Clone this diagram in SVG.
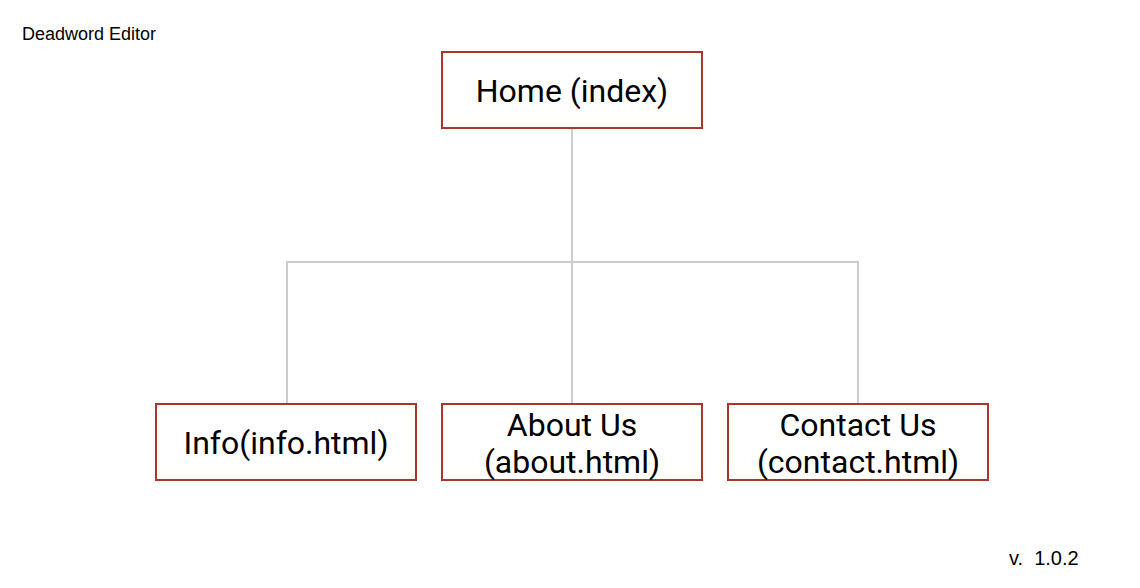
<svg xmlns="http://www.w3.org/2000/svg" width="1140" height="588" viewBox="0 0 1140 588">
<style>
.box{fill:#fff;stroke:#a8382c;stroke-width:2}
.lbl{font-family:Roboto,"Liberation Sans",sans-serif;font-size:32px;fill:#000;text-anchor:middle}
.edge{stroke:#cccccc;stroke-width:2;fill:none}
.note{font-family:"Liberation Sans",Arial,sans-serif;font-size:18px;fill:#000}
</style>
<rect width="1140" height="588" fill="#fff"/>
<text class="note" x="22" y="40">Deadword Editor</text>
<text class="note" x="1009" y="565" style="font-size:20px" xml:space="preserve">v.  1.0.2</text>
<g id="connectors">
<path class="edge" d="M572,128 V404"/>
<path class="edge" d="M287,404 V262 H858 V404"/>
</g>
<g id="home">
<rect class="box" x="442" y="52" width="260" height="76"/>
<text class="lbl" x="572" y="102">Home (index)</text>
</g>
<g id="info">
<rect class="box" x="156" y="404" width="260" height="76"/>
<text class="lbl" x="286" y="454">Info(info.html)</text>
</g>
<g id="about">
<rect class="box" x="442" y="404" width="260" height="76"/>
<text class="lbl" x="572" y="436">About Us</text>
<text class="lbl" x="572" y="473">(about.html)</text>
</g>
<g id="contact">
<rect class="box" x="728" y="404" width="260" height="76"/>
<text class="lbl" x="858" y="436">Contact Us</text>
<text class="lbl" x="858" y="473">(contact.html)</text>
</g>
</svg>
